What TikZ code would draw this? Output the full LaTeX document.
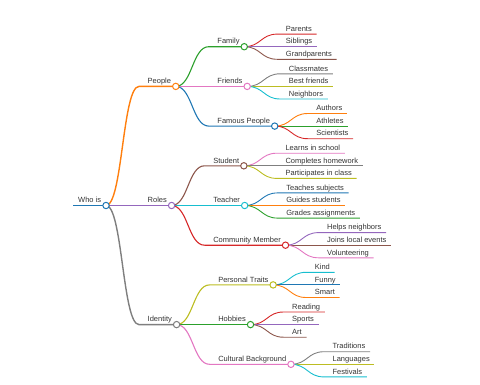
\documentclass[tikz,border=0pt]{standalone}
\usepackage{fontspec}
\setmainfont{Liberation Sans}
\usetikzlibrary{calc}
\definecolor{mmblue}{HTML}{1F77B4}
\definecolor{mmorange}{HTML}{FF7F0E}
\definecolor{mmgreen}{HTML}{2CA02C}
\definecolor{mmred}{HTML}{D62728}
\definecolor{mmpurple}{HTML}{9467BD}
\definecolor{mmbrown}{HTML}{8C564B}
\definecolor{mmpink}{HTML}{E377C2}
\definecolor{mmgray}{HTML}{7F7F7F}
\definecolor{mmolive}{HTML}{BCBD22}
\definecolor{mmcyan}{HTML}{17BECF}
\definecolor{mmtext}{HTML}{333333}
\newcommand\mmnode[6]{%
  \coordinate (#1-s) at ($(#2-c |- 0,#4)+(33,0)$);
  \node[lbl] (#1) at ($(#1-s)+(8.5,-2.8)$) {#5};
  \coordinate (#1-c) at ($(#1-s -| #1.east)+(4.5,0)$);
  \draw[#6,draw=#3] (#2-c) .. controls +(16.5,0) and +(-16.5,0) .. (#1-s) -- (#1-c);
}
\begin{document}
\begin{tikzpicture}[x=1pt,y=-1pt,
  lbl/.style={anchor=base west,inner sep=0pt,text=mmtext,font=\fontsize{7.5}{9}\selectfont},
  lvzero/.style={line width=1.9pt},
  lvone/.style={line width=1.4pt},
  lvtwo/.style={line width=1.1pt},
  lvthree/.style={line width=0.9pt},
  circ/.style={fill=white,line width=1pt}]
\useasboundingbox (0,0) rectangle (480,384);
% root
\coordinate (root-s) at (73,205.5);
\node[lbl] (root) at ($(root-s)+(5,-2.8)$) {Who is};
\coordinate (root-c) at ($(root-s -| root.east)+(4.7,0)$);
\draw[lvzero,draw=mmblue] (root-s) -- (root-c);
% level 1
\mmnode{people}{root}{mmorange}{86.4}{People}{lvone}
\mmnode{roles}{root}{mmpurple}{205.5}{Roles}{lvone}
\mmnode{identity}{root}{mmgray}{324.6}{Identity}{lvone}
% level 2
\mmnode{family}{people}{mmgreen}{46.7}{Family}{lvtwo}
\mmnode{friends}{people}{mmpink}{86.4}{Friends}{lvtwo}
\mmnode{famous}{people}{mmblue}{126.1}{Famous People}{lvtwo}
\mmnode{student}{roles}{mmbrown}{165.8}{Student}{lvtwo}
\mmnode{teacher}{roles}{mmcyan}{205.5}{Teacher}{lvtwo}
\mmnode{community}{roles}{mmred}{245.2}{Community Member}{lvtwo}
\mmnode{traits}{identity}{mmolive}{284.9}{Personal Traits}{lvtwo}
\mmnode{hobbies}{identity}{mmgreen}{324.6}{Hobbies}{lvtwo}
\mmnode{culture}{identity}{mmpink}{364.3}{Cultural Background}{lvtwo}
% level 3
\mmnode{parents}{family}{mmred}{34.1}{Parents}{lvthree}
\mmnode{siblings}{family}{mmpurple}{46.7}{Siblings}{lvthree}
\mmnode{grandparents}{family}{mmbrown}{59.3}{Grandparents}{lvthree}
\mmnode{classmates}{friends}{mmgray}{73.8}{Classmates}{lvthree}
\mmnode{bestfriends}{friends}{mmolive}{86.4}{Best friends}{lvthree}
\mmnode{neighbors}{friends}{mmcyan}{99.0}{Neighbors}{lvthree}
\mmnode{authors}{famous}{mmorange}{113.5}{Authors}{lvthree}
\mmnode{athletes}{famous}{mmgreen}{126.1}{Athletes}{lvthree}
\mmnode{scientists}{famous}{mmred}{138.7}{Scientists}{lvthree}
\mmnode{learns}{student}{mmpink}{153.2}{Learns in school}{lvthree}
\mmnode{completes}{student}{mmgray}{165.8}{Completes homework}{lvthree}
\mmnode{participates}{student}{mmolive}{178.4}{Participates in class}{lvthree}
\mmnode{teaches}{teacher}{mmblue}{192.9}{Teaches subjects}{lvthree}
\mmnode{guides}{teacher}{mmorange}{205.5}{Guides students}{lvthree}
\mmnode{grades}{teacher}{mmgreen}{218.1}{Grades assignments}{lvthree}
\mmnode{helps}{community}{mmpurple}{232.6}{Helps neighbors}{lvthree}
\mmnode{joins}{community}{mmbrown}{245.2}{Joins local events}{lvthree}
\mmnode{volunteering}{community}{mmpink}{257.8}{Volunteering}{lvthree}
\mmnode{kind}{traits}{mmcyan}{272.3}{Kind}{lvthree}
\mmnode{funny}{traits}{mmblue}{284.9}{Funny}{lvthree}
\mmnode{smart}{traits}{mmorange}{297.5}{Smart}{lvthree}
\mmnode{reading}{hobbies}{mmred}{312.0}{Reading}{lvthree}
\mmnode{sports}{hobbies}{mmpurple}{324.6}{Sports}{lvthree}
\mmnode{art}{hobbies}{mmbrown}{337.2}{Art}{lvthree}
\mmnode{traditions}{culture}{mmgray}{351.7}{Traditions}{lvthree}
\mmnode{languages}{culture}{mmolive}{364.3}{Languages}{lvthree}
\mmnode{festivals}{culture}{mmcyan}{376.9}{Festivals}{lvthree}
% circles
\foreach \n/\c in {root/mmblue,people/mmorange,roles/mmpurple,identity/mmgray,
  family/mmgreen,friends/mmpink,famous/mmblue,student/mmbrown,teacher/mmcyan,
  community/mmred,traits/mmolive,hobbies/mmgreen,culture/mmpink}
  \draw[circ,draw=\c] (\n-c) circle (3.2);
\end{tikzpicture}
\end{document}
